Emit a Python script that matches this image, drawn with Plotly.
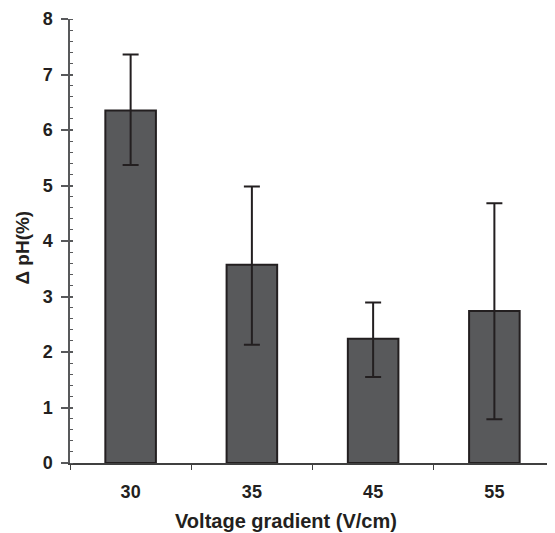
import plotly.graph_objects as go

categories = ["30", "35", "45", "55"]
delta_ph = [6.35, 3.57, 2.24, 2.74]
err_plus = [1.01, 1.41, 0.65, 1.94]
err_minus = [0.98, 1.44, 0.69, 1.95]
y_ticks = [0, 1, 2, 3, 4, 5, 6, 7, 8]
x_title = "Voltage gradient (V/cm)"
y_title = "Δ pH(%)"

fig = go.Figure()
fig.add_trace(go.Bar(
    x=categories, y=delta_ph,
    marker=dict(color="#58595b", line=dict(color="#231f20", width=2)),
    error_y=dict(type="data", array=err_plus, arrayminus=err_minus,
                 color="#231f20", thickness=2, width=8, symmetric=False),
))
# overlay axis to draw the inside part of the major ticks
fig.add_trace(go.Scatter(x=categories, y=delta_ph, yaxis="y2", mode="none",
                         showlegend=False, hoverinfo="skip"))

font_fam = "Liberation Sans, Arial, sans-serif"
fig.update_layout(
    width=547, height=525,
    margin=dict(l=62, r=0, t=11, b=70),
    plot_bgcolor="white", paper_bgcolor="white",
    showlegend=False,
    bargap=0.583,
    font=dict(family=font_fam, size=18, color="#231f20"),
    xaxis=dict(
        type="category", automargin=False,
        showline=True, linecolor="#404040", linewidth=1.5,
        ticks="outside", tickson="boundaries", ticklen=5, tickcolor="#404040",
        ticklabelstandoff=12,
        tickfont=dict(size=18, family=font_fam, weight="bold"),
        showgrid=False, zeroline=False,
    ),
    yaxis=dict(
        range=[0, 8], tickvals=y_ticks, automargin=False,
        showline=True, linecolor="#58595b", linewidth=1.5,
        ticks="outside", ticklen=7, tickcolor="#58595b", tickwidth=1.5,
        ticklabelstandoff=5,
        minor=dict(ticks="inside", dtick=0.2, ticklen=3, tickcolor="#58595b", tickwidth=1.2),
        tickfont=dict(size=18, family=font_fam, weight="bold"),
        showgrid=False, zeroline=False,
    ),
    yaxis2=dict(
        range=[0, 8], tickvals=y_ticks, overlaying="y", side="left",
        ticks="inside", ticklen=3, tickcolor="#58595b", tickwidth=1.5,
        showticklabels=False, showline=False, showgrid=False, zeroline=False,
    ),
    annotations=[
        dict(text="<b>" + x_title + "</b>", xref="paper", yref="paper",
             x=0.445, y=-0.131, xanchor="center", yanchor="middle",
             showarrow=False, font=dict(size=20, family=font_fam)),
        dict(text="<b>" + y_title + "</b>", xref="paper", yref="paper",
             x=-0.097, y=0.485, xanchor="center", yanchor="middle", textangle=-90,
             showarrow=False, font=dict(size=19, family=font_fam)),
    ],
)
fig.write_html("out.html")
